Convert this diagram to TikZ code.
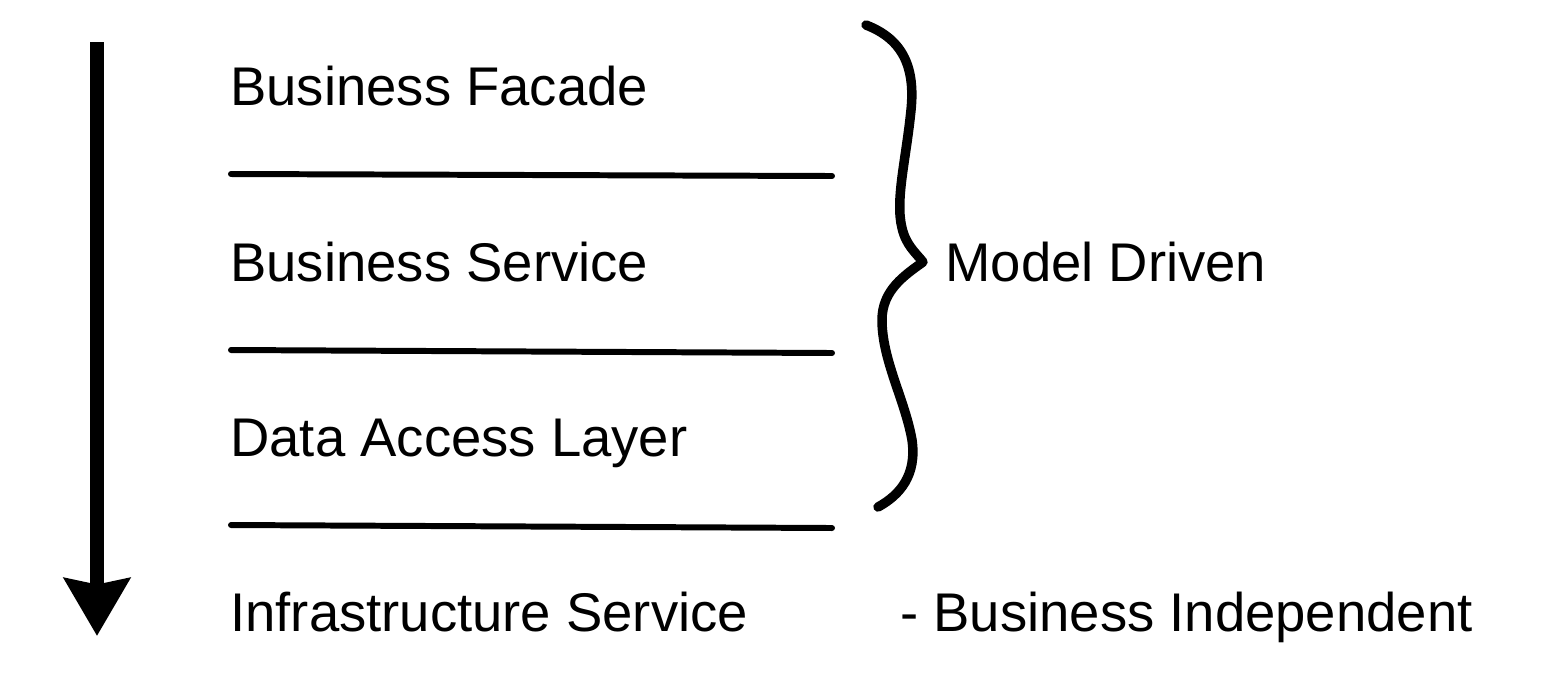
\documentclass[tikz,border=0pt]{standalone}
\usepackage{fontspec}
\setmainfont{Liberation Sans}
\usepackage{tikz}
\usetikzlibrary{arrows.meta}

\begin{document}
\begin{tikzpicture}[x=0.02cm,y=-0.02cm,>=Stealth,
                    layer node/.style={anchor=base west,inner sep=0pt,font=\fontsize{31}{36}\selectfont},
                    sep line/.style={line width=3.4pt,line cap=round}]

  \useasboundingbox (0,0) rectangle (1550,674);

  % direction arrow
  \coordinate (top) at (97,42);
  \coordinate (bottom) at (97,636);
  \draw[line width=8pt,-{Stealth[length=1.15cm,width=1.3cm,inset=0.12cm]}] (top) -- (bottom);

  % layers
  \node[layer node] (facade)  at (230,105) {Business Facade};
  \node[layer node] (service) at (230,281) {Business Service};
  \node[layer node] (dal)     at (230,456) {Data Access Layer};
  \node[layer node] (infra)   at (230,631) {Infrastructure Service};

  \draw[sep line] (231,174) -- (832,176);
  \draw[sep line] (231,350) -- (832,353);
  \draw[sep line] (231,525) -- (832,528);

  % brace
  \draw[line width=5.4pt,line cap=round,line join=round]
    (866,25) .. controls (905,40) and (915,70) .. (911,110)
    .. controls (906,160) and (895,200) .. (902,228)
    .. controls (906,245) and (915,252) .. (923,262)
    .. controls (905,275) and (882,290) .. (882,320)
    .. controls (882,360) and (905,400) .. (912,440)
    .. controls (917,475) and (900,495) .. (878,507);

  \node[layer node] (model) at (945,281) {Model Driven};
  \node[layer node] (indep) at (900,631) {- Business Independent};
\end{tikzpicture}
\end{document}
